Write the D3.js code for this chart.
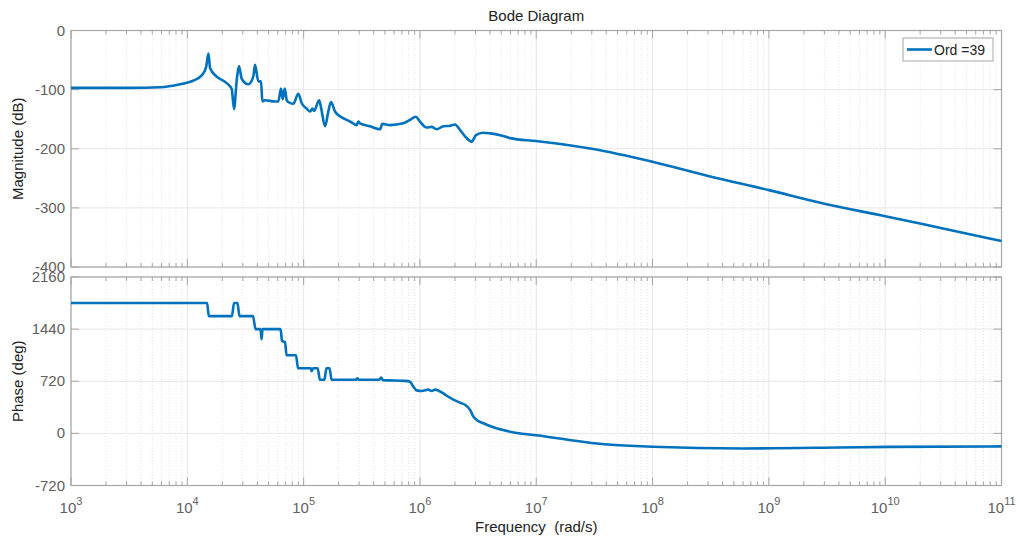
<!DOCTYPE html>
<html>
<head>
<meta charset="utf-8">
<script src="https://cdn.jsdelivr.net/npm/d3@7"></script>
<style>
  body { margin: 0; background: #fff; }
  text { font-family: "Liberation Sans", Arial, sans-serif; }
</style>
</head>
<body>
<div id="bode"></div>
<script>
// DATA =========================================
const magFreq = [1e3, 3.2e3, 5.82e3, 8.65e3, 1.12e4, 1.33e4, 1.45e4, 1.52e4, 1.57e4, 1.79e4,
  2.18e4, 2.41e4, 2.52e4, 2.66e4, 2.78e4, 2.94e4, 3.35e4, 3.69e4, 3.82e4, 4.08e4,
  4.30e4, 4.42e4, 4.66e4, 5.68e4, 6.06e4, 6.39e4, 6.61e4, 6.88e4, 7.16e4, 7.39e4,
  8.15e4, 9.0e4, 9.63e4, 1.06e5, 1.14e5, 1.19e5, 1.23e5, 1.36e5, 1.41e5, 1.53e5,
  1.63e5, 1.72e5, 1.86e5, 2.13e5, 2.51e5, 2.86e5, 2.95e5, 3.05e5, 3.72e5, 4.54e5,
  4.75e5, 5.53e5, 7.2e5, 8.22e5, 9.2e5, 1.0e6, 1.14e6, 1.26e6, 1.39e6, 1.59e6,
  1.82e6, 2.0e6, 2.21e6, 2.49e6, 2.79e6, 3.03e6, 3.49e6, 4.01e6, 4.89e6, 5.96e6,
  1e7, 3e7, 1e8, 3e8, 1e9, 3e9, 1e10, 3e10, 1e11];
const magDb = [-97, -97, -96, -91, -85, -76, -62, -39, -64, -78,
  -89, -99, -133, -84, -60, -82, -91, -78, -58, -86,
  -86, -120, -118, -120, -120, -98, -116, -98, -118, -121,
  -124, -107, -123, -132, -137, -132, -136, -118, -130, -162,
  -137, -121, -137, -147, -154, -160, -154, -157, -162, -167,
  -158, -160, -157, -151, -146, -154, -164, -163, -167, -162,
  -161, -159, -168, -181, -188, -177, -173, -174, -177, -182,
  -187, -200, -222, -246, -270, -293, -314, -334, -356];

const phFreq = [1e3, 1.06e4, 1.48e4, 1.53e4, 2.42e4, 2.52e4, 2.70e4, 2.81e4, 3.67e4, 3.86e4,
  4.26e4, 4.35e4, 4.43e4, 6.33e4, 6.52e4, 6.92e4, 7.13e4, 8.6e4, 8.95e4, 1.15e5,
  1.17e5, 1.21e5, 1.32e5, 1.38e5, 1.51e5, 1.57e5, 1.67e5, 1.74e5, 2.82e5, 2.90e5,
  2.98e5, 4.45e5, 4.63e5, 4.82e5, 7.45e5, 8.22e5, 8.73e5, 9.38e5, 1.04e6, 1.18e6,
  1.26e6, 1.35e6, 1.54e6, 1.70e6, 1.94e6, 2.21e6, 2.44e6, 2.70e6, 2.88e6, 3.08e6,
  3.51e6, 4.28e6, 5.19e6, 6.79e6, 1e7, 3e7, 1e8, 6e8, 4e9, 1.1e10, 1e11];
const phDeg = [1800, 1800, 1800, 1620, 1620, 1800, 1800, 1620, 1620, 1440,
  1440, 1300, 1440, 1440, 1280, 1260, 1080, 1080, 900, 900,
  860, 900, 900, 740, 740, 900, 900, 740, 740, 760,
  740, 740, 770, 735, 725, 712, 650, 594, 586, 604,
  586, 604, 566, 520, 465, 423, 395, 325, 232, 186,
  140, 84, 46, 5, -25, -132, -185, -208, -195, -186, -180];

const magTicks = [-400, -300, -200, -100, 0];
const phTicks = [-720, 0, 720, 1440, 2160];
const decades = [3, 4, 5, 6, 7, 8, 9, 10, 11];
const legendLabel = "Ord =39";

// LAYOUT =======================================
const width = 1022, height = 547;
const left = 71, right = 1001.5;
const magTop = 30.5, magBottom = 267;
const phTop = 277, phBottom = 485.5;

const axisGrey = "#a6a6a6";
const tickText = "#606060";
const lineBlue = "#0072BD";

const svg = d3.select("#bode")
  .append("svg")
  .attr("width", width)
  .attr("height", height);

// SCALES =======================================
const x = d3.scaleLog().domain([1e3, 1e11]).range([left, right]);
const yMag = d3.scaleLinear().domain([-400, 0]).range([magBottom, magTop]);
const yPh = d3.scaleLinear().domain([-720, 2160]).range([phBottom, phTop]);

const majors = decades.map(d => Math.pow(10, d));
const minors = [];
decades.slice(0, -1).forEach(d => {
  for (let k = 2; k <= 9; k++) minors.push(k * Math.pow(10, d));
});
const allTicks = majors.concat(minors);

// PANELS =======================================
function panel(y, ticks, freq, vals, top, bottom, showLabels) {
  const g = svg.append("g");

  // minor grid (dotted)
  g.selectAll("line.minor")
    .data(minors)
    .join("line")
    .attr("x1", d => x(d)).attr("x2", d => x(d))
    .attr("y1", top).attr("y2", bottom)
    .attr("stroke", "#e3e3e3")
    .attr("stroke-dasharray", "1,2");

  // major grid
  g.selectAll("line.vmaj")
    .data(majors)
    .join("line")
    .attr("x1", d => x(d)).attr("x2", d => x(d))
    .attr("y1", top).attr("y2", bottom)
    .attr("stroke", "#e6e6e6");

  g.selectAll("line.hmaj")
    .data(ticks)
    .join("line")
    .attr("x1", left).attr("x2", right)
    .attr("y1", d => y(d)).attr("y2", d => y(d))
    .attr("stroke", "#e6e6e6");

  // inward ticks on all four sides
  const ax = g.append("g");
  ax.selectAll("line.tb")
    .data(allTicks)
    .join("line")
    .attr("x1", d => x(d)).attr("x2", d => x(d))
    .attr("y1", bottom).attr("y2", d => bottom - (majors.includes(d) ? 8 : 4))
    .attr("stroke", axisGrey);
  ax.selectAll("line.tt")
    .data(allTicks)
    .join("line")
    .attr("x1", d => x(d)).attr("x2", d => x(d))
    .attr("y1", top).attr("y2", d => top + (majors.includes(d) ? 8 : 4))
    .attr("stroke", axisGrey);
  ax.selectAll("line.tl")
    .data(ticks)
    .join("line")
    .attr("x1", left).attr("x2", left + 8)
    .attr("y1", d => y(d)).attr("y2", d => y(d))
    .attr("stroke", axisGrey);
  ax.selectAll("line.tr")
    .data(ticks)
    .join("line")
    .attr("x1", right).attr("x2", right - 8)
    .attr("y1", d => y(d)).attr("y2", d => y(d))
    .attr("stroke", axisGrey);

  g.append("rect")
    .attr("x", left).attr("y", top)
    .attr("width", right - left).attr("height", bottom - top)
    .attr("fill", "none")
    .attr("stroke", axisGrey)
    .attr("stroke-width", 1.2);

  // y tick labels
  g.selectAll("text.ylab")
    .data(ticks)
    .join("text")
    .attr("x", left - 6)
    .attr("y", d => y(d) + 5)
    .attr("text-anchor", "end")
    .attr("fill", tickText)
    .style("font-size", "15px")
    .text(d => d);

  if (showLabels) {
    const lab = g.selectAll("text.xlab")
      .data(decades)
      .join("text")
      .attr("x", d => x(Math.pow(10, d)))
      .attr("y", bottom + 27)
      .attr("text-anchor", "middle")
      .attr("fill", tickText)
      .style("font-size", "15px");
    lab.append("tspan").text("10");
    lab.append("tspan")
      .attr("dy", -8)
      .style("font-size", "11px")
      .text(d => d);
  }

  // curve
  const pts = freq.map((f, i) => [f, vals[i]]);
  g.append("path")
    .datum(pts)
    .attr("fill", "none")
    .attr("stroke", lineBlue)
    .attr("stroke-width", 2.6)
    .attr("stroke-linejoin", "round")
    .attr("d", d3.line()
      .x(d => x(d[0]))
      .y(d => y(d[1]))
      .curve(d3.curveMonotoneX));

  return g;
}

panel(yMag, magTicks, magFreq, magDb, magTop, magBottom, false);
panel(yPh, phTicks, phFreq, phDeg, phTop, phBottom, true);

// TEXTS ========================================
svg.append("text")
  .attr("x", (left + right) / 2)
  .attr("y", 21)
  .attr("text-anchor", "middle")
  .attr("fill", "#222")
  .style("font-size", "15px")
  .text("Bode Diagram");

svg.append("text")
  .attr("x", (left + right) / 2)
  .attr("y", 532)
  .attr("text-anchor", "middle")
  .attr("fill", "#222")
  .style("font-size", "15px")
  .style("white-space", "pre")
  .text("Frequency  (rad/s)");

svg.append("text")
  .attr("transform", `translate(23, ${(magTop + magBottom) / 2}) rotate(-90)`)
  .attr("text-anchor", "middle")
  .attr("fill", "#222")
  .style("font-size", "15px")
  .text("Magnitude (dB)");

svg.append("text")
  .attr("transform", `translate(23, ${(phTop + phBottom) / 2}) rotate(-90)`)
  .attr("text-anchor", "middle")
  .attr("fill", "#222")
  .style("font-size", "15px")
  .text("Phase (deg)");

// LEGEND =======================================
const legend = svg.append("g").attr("transform", "translate(903, 38)");
legend.append("rect")
  .attr("width", 90).attr("height", 23)
  .attr("fill", "#fff")
  .attr("stroke", "#a6a6a6");
legend.append("line")
  .attr("x1", 4).attr("x2", 29)
  .attr("y1", 11.5).attr("y2", 11.5)
  .attr("stroke", lineBlue)
  .attr("stroke-width", 2.6);
legend.append("text")
  .attr("x", 31).attr("y", 17)
  .attr("fill", "#222")
  .style("font-size", "14px")
  .text(legendLabel);
</script>
</body>
</html>
